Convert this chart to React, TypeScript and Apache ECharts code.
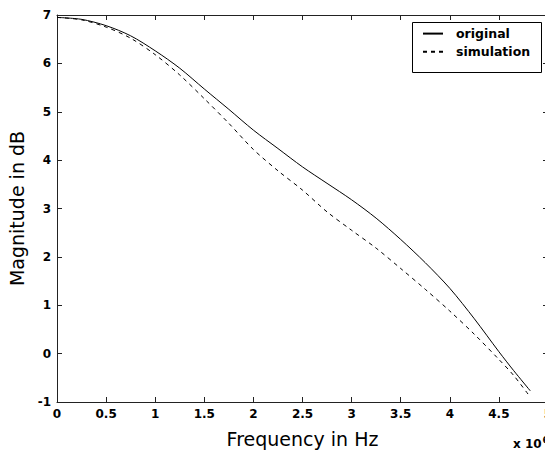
import React, { useEffect, useRef } from "react";
import * as echarts from "echarts";

const freq = [0, 0.25, 0.5, 0.75, 1.0, 1.25, 1.5, 1.75, 2.0, 2.25, 2.5, 2.75, 3.0, 3.25, 3.5, 3.75, 4.0, 4.25, 4.5, 4.65, 4.82];
const original = [6.95, 6.91, 6.78, 6.57, 6.26, 5.9, 5.47, 5.05, 4.62, 4.24, 3.86, 3.52, 3.18, 2.8, 2.36, 1.88, 1.35, 0.72, 0.04, -0.35, -0.77];
const simulation = [6.95, 6.9, 6.75, 6.52, 6.18, 5.76, 5.27, 4.76, 4.22, 3.78, 3.38, 2.93, 2.55, 2.18, 1.76, 1.33, 0.88, 0.4, -0.12, -0.45, -0.9];
const seriesNames = ["original", "simulation"];
const xTitle = "Frequency in Hz";
const yTitle = "Magnitude in dB";
const xExponent = "x 10";
const xExponentSup = "6";

const tickFont = { fontFamily: "DejaVu Sans", fontWeight: "bold" as const, fontSize: 12, color: "#000" };
const titleFont = { fontFamily: "DejaVu Sans", fontWeight: "normal" as const, fontSize: 19, color: "#000" };

export default function App() {
  const ref = useRef<HTMLDivElement>(null);
  useEffect(() => {
    if (!ref.current) return;
    const chart = echarts.init(ref.current, null, { renderer: "svg" });
    const axisLine = { show: true, onZero: false, lineStyle: { color: "#222", width: 1 } };
    const axisTick = { show: true, inside: true, length: 5, lineStyle: { color: "#222", width: 1 } };
    chart.setOption({
      animation: false,
      backgroundColor: "#fff",
      grid: { left: 57, top: 15, right: 0, bottom: 51, containLabel: false, outerBoundsMode: "none" },
      legend: {
        data: seriesNames,
        orient: "vertical",
        left: 412,
        top: 22,
        padding: [5, 10, 5, 10],
        itemWidth: 20,
        itemHeight: 14,
        itemGap: 5,
        z: 10,
        itemStyle: { opacity: 0 },
        textStyle: { fontFamily: "DejaVu Sans", fontWeight: "bold", fontSize: 12.5, color: "#000", padding: [0, 0, 0, 8] },
      },
      graphic: [
        {
          type: "rect",
          left: 412,
          top: 22,
          z: 5,
          shape: { width: 129, height: 50 },
          style: { fill: "#fff", stroke: "#000", lineWidth: 1 },
        },
        {
          type: "text",
          left: 513,
          top: 435,
          z: 10,
          style: {
            text: xExponent + "{sup|" + xExponentSup + "}",
            font: "bold 12px 'DejaVu Sans'",
            fill: "#000",
            rich: { sup: { fontFamily: "DejaVu Sans", fontWeight: "bold", fontSize: 9, verticalAlign: "top", padding: [0, 0, 8, 1] } },
          },
        },
      ],
      xAxis: [
        {
          type: "value",
          min: 0,
          max: 5,
          interval: 0.5,
          position: "bottom",
          name: xTitle,
          nameLocation: "middle",
          nameGap: 27,
          nameTextStyle: titleFont,
          axisLine,
          axisTick,
          splitLine: { show: false },
          axisLabel: { ...tickFont, margin: 6 },
        },
        {
          type: "value",
          min: 0,
          max: 5,
          interval: 0.5,
          position: "top",
          axisLine,
          axisTick,
          splitLine: { show: false },
          axisLabel: { show: false },
        },
      ],
      yAxis: [
        {
          type: "value",
          min: -1,
          max: 7,
          interval: 1,
          position: "left",
          name: yTitle,
          nameLocation: "middle",
          nameGap: 25,
          nameTextStyle: titleFont,
          axisLine,
          axisTick,
          splitLine: { show: false },
          axisLabel: { ...tickFont, margin: 6 },
        },
        {
          type: "value",
          min: -1,
          max: 7,
          interval: 1,
          position: "right",
          axisLine,
          axisTick,
          splitLine: { show: false },
          axisLabel: { show: false },
        },
      ],
      series: [
        {
          name: seriesNames[0],
          type: "line",
          data: freq.map((f, i) => [f, original[i]]),
          showSymbol: false,
          smooth: 0.3,
          lineStyle: { color: "#000", width: 1, type: "solid" },
          itemStyle: { color: "#000" },
        },
        {
          name: seriesNames[1],
          type: "line",
          data: freq.map((f, i) => [f, simulation[i]]),
          showSymbol: false,
          smooth: 0.3,
          lineStyle: { color: "#000", width: 1, type: [4, 4] },
          itemStyle: { color: "#000" },
        },
      ],
    });
    return () => chart.dispose();
  }, []);
  return (
    <div style={{ position: "fixed", left: 0, top: 0, width: 545, height: 453, overflow: "hidden" }}>
      <div ref={ref} style={{ width: 548, height: 453 }} />
    </div>
  );
}
